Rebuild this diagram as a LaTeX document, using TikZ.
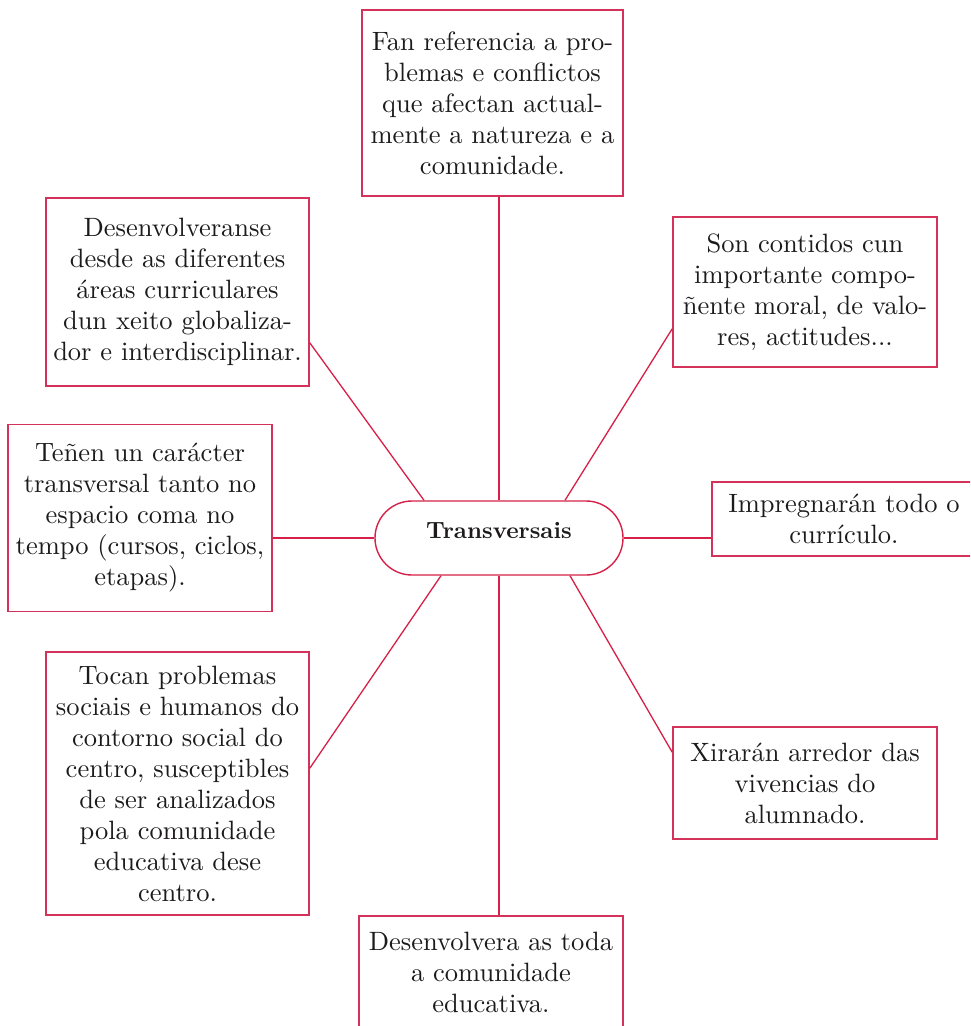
\documentclass[tikz,border=0pt]{standalone}
\usepackage{fontspec}
\setmainfont{lmroman10-regular}[Extension=.otf, BoldFont=lmroman10-bold]
\usetikzlibrary{calc}
\definecolor{lnc}{RGB}{214,32,72}
\definecolor{bxc}{RGB}{212,50,90}
\definecolor{txc}{RGB}{28,26,27}
\begin{document}
\begin{tikzpicture}[x=1pt,y=1pt,
  box/.style={draw=bxc, line width=1.6pt, align=center, text=txc,
    font=\fontsize{26.5}{31}\selectfont, inner sep=0pt},
  hub/.style={draw=lnc, line width=1.4pt, rounded corners=37pt, text=txc,
    minimum width=248pt, minimum height=74pt, inner sep=0pt,
    text height=9pt, text depth=9pt, font=\fontsize{23.5}{28}\selectfont\bfseries},
  conn/.style={draw=lnc, line width=1.3pt}]
\useasboundingbox (0,0) rectangle (970,-1026);
\clip (0,0) rectangle (970,-1026);

\node[hub] (c) at (499,-538) {Transversais};

\node[box, minimum width=261pt, minimum height=186pt] (T) at (492.5,-103)
  {Fan referencia a pro-\\blemas e conflictos\\que afectan actual-\\mente a natureza e a\\comunidade.};
\node[box, minimum width=263pt, minimum height=188pt] (TL) at (177.5,-292)
  {Desenvolveranse\\desde as diferentes\\áreas curriculares\\dun xeito globaliza-\\dor e interdisciplinar.};
\node[box, minimum width=264pt, minimum height=150pt] (RT) at (805,-292)
  {Son contidos cun\\importante compo-\\ñente moral, de valo-\\res, actitudes...};
\node[box, minimum width=264pt, minimum height=187pt] (L) at (140,-518)
  {Teñen un carácter\\transversal tanto no\\espacio coma no\\tempo (cursos, ciclos,\\etapas).};
\node[box, minimum width=264pt, minimum height=74pt] (R) at (844,-519)
  {Impregnarán todo o\\currículo.};
\node[box, minimum width=263pt, minimum height=263pt] (BL) at (177.5,-783.5)
  {Tocan problemas\\sociais e humanos do\\contorno social do\\centro, susceptibles\\de ser analizados\\pola comunidade\\educativa dese\\centro.};
\node[box, minimum width=264pt, minimum height=112pt] (RB) at (805,-783)
  {Xirarán arredor das\\vivencias do\\alumnado.};
\node[box, minimum width=264pt, minimum height=112pt] (B) at (491,-972)
  {Desenvolvera as toda\\a comunidade\\educativa.};

\draw[conn] (c.north) -- (c.north |- T.south);
\draw[conn] (c.south) -- (c.south |- B.north);
\draw[conn] (c.west) -- (c.west -| L.east);
\draw[conn] (c.east) -- (c.east -| R.west);
\draw[conn] ([xshift=-75pt]c.north) -- ([yshift=44pt]TL.south east);
\draw[conn] ([xshift=66pt]c.north) -- ([yshift=39pt]RT.south west);
\draw[conn] ([xshift=-58pt]c.south) -- ([yshift=-117pt]BL.north east);
\draw[conn] ([xshift=71pt]c.south) -- ([yshift=-26pt]RB.north west);
\end{tikzpicture}
\end{document}
